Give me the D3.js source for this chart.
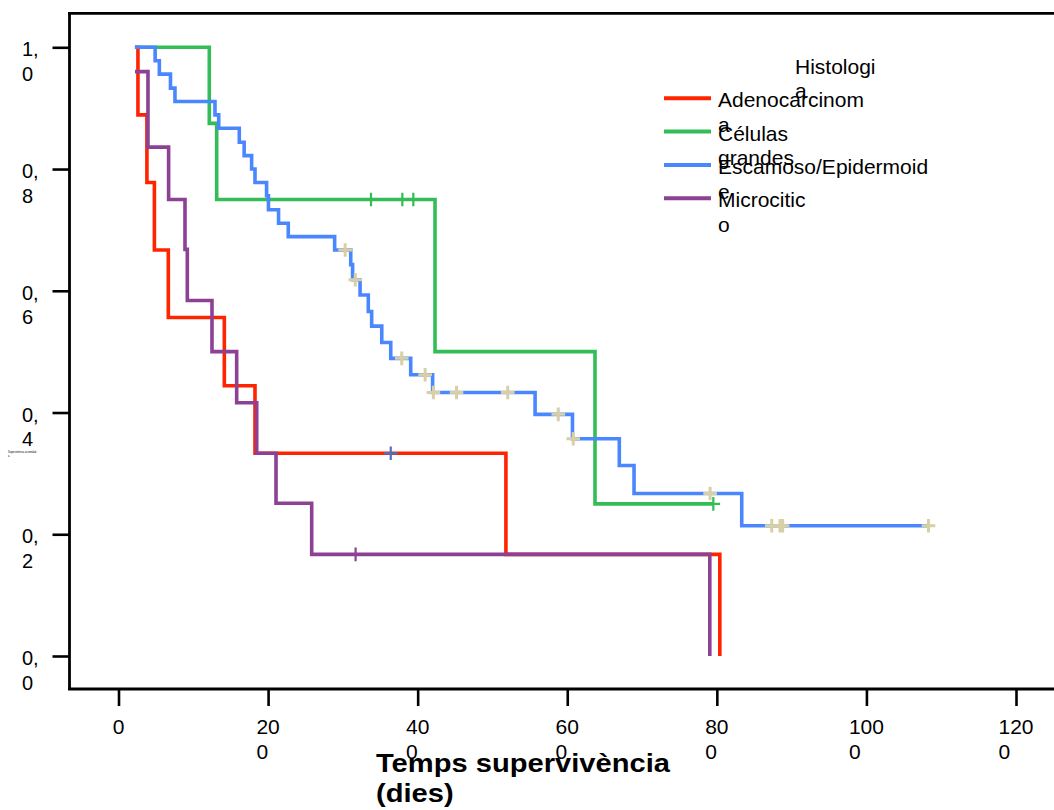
<!DOCTYPE html>
<html>
<head>
<meta charset="utf-8">
<script src="https://cdn.jsdelivr.net/npm/d3@7"></script>
<style>
  html, body { margin: 0; padding: 0; background: #ffffff; }
  svg { display: block; }
  text { font-family: "Liberation Sans", Arial, sans-serif; fill: #000; }
</style>
</head>
<body>
<svg id="chart" width="1054" height="810"></svg>
<script>
// ---------------- data ----------------
const xTicks = [0, 200, 400, 600, 800, 1000, 1200];
const yTicks = [0, 0.2, 0.4, 0.6, 0.8, 1.0];
const xTitle = "Temps supervivència (dies)";
const yTitle = "Supervivència acumulada";
const legendTitle = "Histologia";
const categories = ["Adenocarcinoma", "Células grandes", "Escamoso/Epidermoide", "Microcitico"];

const adenoTime = [22, 26, 38, 48, 66.6, 141.5, 182.5, 518, 804];
const adenoSurv = [1.0, 0.889, 0.778, 0.667, 0.556, 0.444, 0.333, 0.167, 0.0];
const adenoCensTime = [364];
const adenoCensSurv = [0.333];

const grandesTime = [22, 121.4, 131.3, 423.2, 637.1, 795.3];
const grandesSurv = [1.0, 0.875, 0.75, 0.5, 0.25, 0.25];
const grandesCensTime = [337.6, 379.5, 394.2, 795.3];
const grandesCensSurv = [0.75, 0.75, 0.75, 0.25];

const escamosoTime = [22, 49, 54.6, 69.5, 75.5, 129, 134, 161.5, 168, 178, 182.5, 198, 200.5, 214, 227,
  289, 310.5, 313, 323, 334, 338.5, 352, 364, 390.7, 420, 557, 607, 669.6, 689.3, 833.3, 1083];
const escamosoSurv = [1.0, 0.978, 0.956, 0.933, 0.911, 0.889, 0.867, 0.844, 0.822, 0.800, 0.778, 0.756, 0.733, 0.711, 0.689,
  0.667, 0.643, 0.618, 0.593, 0.566, 0.542, 0.515, 0.489, 0.462, 0.433, 0.397, 0.357, 0.313, 0.267, 0.214, 0.214];
const escamosoCensTime = [303, 316.6, 378.7, 410, 421, 452, 520.4, 588, 608, 791, 873.4, 884.5, 888, 1083];
const escamosoCensSurv = [0.667, 0.618, 0.489, 0.462, 0.433, 0.433, 0.433, 0.397, 0.357, 0.267, 0.214, 0.214, 0.214, 0.214];

const microTime = [22, 39.4, 67, 88.9, 92, 125, 158, 184.8, 210.6, 258.3, 790.6];
const microSurv = [0.96, 0.836, 0.75, 0.668, 0.584, 0.5, 0.416, 0.333, 0.251, 0.167, 0.0];
const microCensTime = [317];
const microCensSurv = [0.167];

// ---------------- styles ----------------
const lineColors = ["#ff2400", "#33bd57", "#4a87ff", "#8c4195"];
const censorColors = ["#4f6fc0", "#33bd57", "#d9cfa4", "#8c4195"];

const series = [
  {time: adenoTime, surv: adenoSurv, ct: adenoCensTime, cs: adenoCensSurv},
  {time: grandesTime, surv: grandesSurv, ct: grandesCensTime, cs: grandesCensSurv},
  {time: escamosoTime, surv: escamosoSurv, ct: escamosoCensTime, cs: escamosoCensSurv},
  {time: microTime, surv: microSurv, ct: microCensTime, cs: microCensSurv}
];

// wrap rule seen in the reference: split at last space, otherwise break off last character
function wrap2(s) {
  const i = s.lastIndexOf(" ");
  if (i > 0) return [s.slice(0, i), s.slice(i + 1)];
  if (s.length > 1) return [s.slice(0, -1), s.slice(-1)];
  return [s];
}
const fmtY = d => d3.format(".1f")(d).replace(".", ",");

const svg = d3.select("#chart");
const x = d3.scaleLinear().domain([0, 1200]).range([118.5, 1016]);
const y = d3.scaleLinear().domain([0, 1]).range([656, 47.3]);

// frame
const frame = svg.append("g").attr("stroke", "#000").attr("stroke-width", 2.8).attr("fill", "none");
frame.append("line").attr("x1", 69.5).attr("x2", 69.5).attr("y1", 12).attr("y2", 690);
frame.append("line").attr("x1", 68).attr("x2", 1054).attr("y1", 13.3).attr("y2", 13.3);
frame.append("line").attr("x1", 68).attr("x2", 1054).attr("y1", 689).attr("y2", 689);

// y axis ticks
const yAxis = d3.axisLeft(y).tickValues(yTicks).tickSize(17).tickFormat("");
const gy = svg.append("g").attr("transform", "translate(69.5,0)").call(yAxis);
gy.select(".domain").remove();
gy.selectAll(".tick line").attr("stroke", "#000").attr("stroke-width", 2.6);
yTicks.forEach(v => {
  const lines = wrap2(fmtY(v));
  const t = svg.append("text").attr("font-size", 20).attr("x", 22).attr("y", y(v) + 9);
  lines.forEach((l, i) => t.append("tspan").attr("x", 22).attr("dy", i === 0 ? 0 : 24.5).text(l));
});

// x axis ticks
const xAxis = d3.axisBottom(x).tickValues(xTicks).tickSize(17).tickFormat("");
const gx = svg.append("g").attr("transform", "translate(0,689)").call(xAxis);
gx.select(".domain").remove();
gx.selectAll(".tick line").attr("stroke", "#000").attr("stroke-width", 2.6);
xTicks.forEach(v => {
  const lines = wrap2(String(v));
  const t = svg.append("text").attr("font-size", 21).attr("y", 734);
  const first = t.append("tspan").text(lines[0]);
  const w = first.node().getComputedTextLength();
  const x0 = x(v) - w / 2;
  first.attr("x", x0);
  if (lines[1]) t.append("tspan").attr("x", x0).attr("dy", 25).text(lines[1]);
});

// x title (slightly wide lettering as in the reference)
{
  const lines = wrap2(xTitle);
  const t = svg.append("text").attr("font-size", 26).attr("font-weight", "bold")
    .attr("transform", "translate(376,0) scale(1.12,1)");
  lines.forEach((l, i) => t.append("tspan").attr("x", 0).attr("y", i === 0 ? 772 : 802).text(l));
}

// tiny y title (rendered minuscule in the reference)
{
  const lines = wrap2(yTitle + "a").length ? ["Supervivència acumulad", "a"] : [];
  const t = svg.append("text").attr("font-size", 2.6).attr("fill", "#555").attr("y", 453);
  lines.forEach((l, i) => t.append("tspan").attr("x", 8).attr("dy", i === 0 ? 0 : 3.5).text(l));
}

// curves
const stepLine = d3.line().x(d => x(d[0])).y(d => y(d[1])).curve(d3.curveStepAfter);
series.forEach((s, k) => {
  const pts = s.time.map((t, i) => [t, s.surv[i]]);
  const g = svg.append("g");
  g.append("path").attr("d", stepLine(pts)).attr("fill", "none")
    .attr("stroke", lineColors[k]).attr("stroke-width", 3.6);
  const cs = s.ct.map((t, i) => [t, s.cs[i]]);
  const h = 6.8;
  const sw = k === 2 ? 3 : 2.2;
  g.selectAll("path.cens").data(cs).enter().append("path").attr("class", "cens")
    .attr("d", d => `M${x(d[0]) - h},${y(d[1])}H${x(d[0]) + h}M${x(d[0])},${y(d[1]) - h}V${y(d[1]) + h}`)
    .attr("stroke", censorColors[k]).attr("stroke-width", sw).attr("fill", "none");
});

// legend
{
  const lg = svg.append("g");
  const tl = wrap2(legendTitle);
  const tt = lg.append("text").attr("font-size", 21).attr("y", 73.5);
  tl.forEach((l, i) => tt.append("tspan").attr("x", 795).attr("dy", i === 0 ? 0 : 24).text(l));
  const rowY = [98.3, 131.5, 165, 198.3];
  categories.forEach((c, i) => {
    lg.append("line").attr("x1", 664).attr("x2", 711).attr("y1", rowY[i]).attr("y2", rowY[i])
      .attr("stroke", lineColors[i]).attr("stroke-width", 4);
    const t = lg.append("text").attr("font-size", 21).attr("y", rowY[i] + 9);
    wrap2(c).forEach((l, j) => t.append("tspan").attr("x", 718).attr("dy", j === 0 ? 0 : 24.5).text(l));
  });
}
</script>
</body>
</html>
